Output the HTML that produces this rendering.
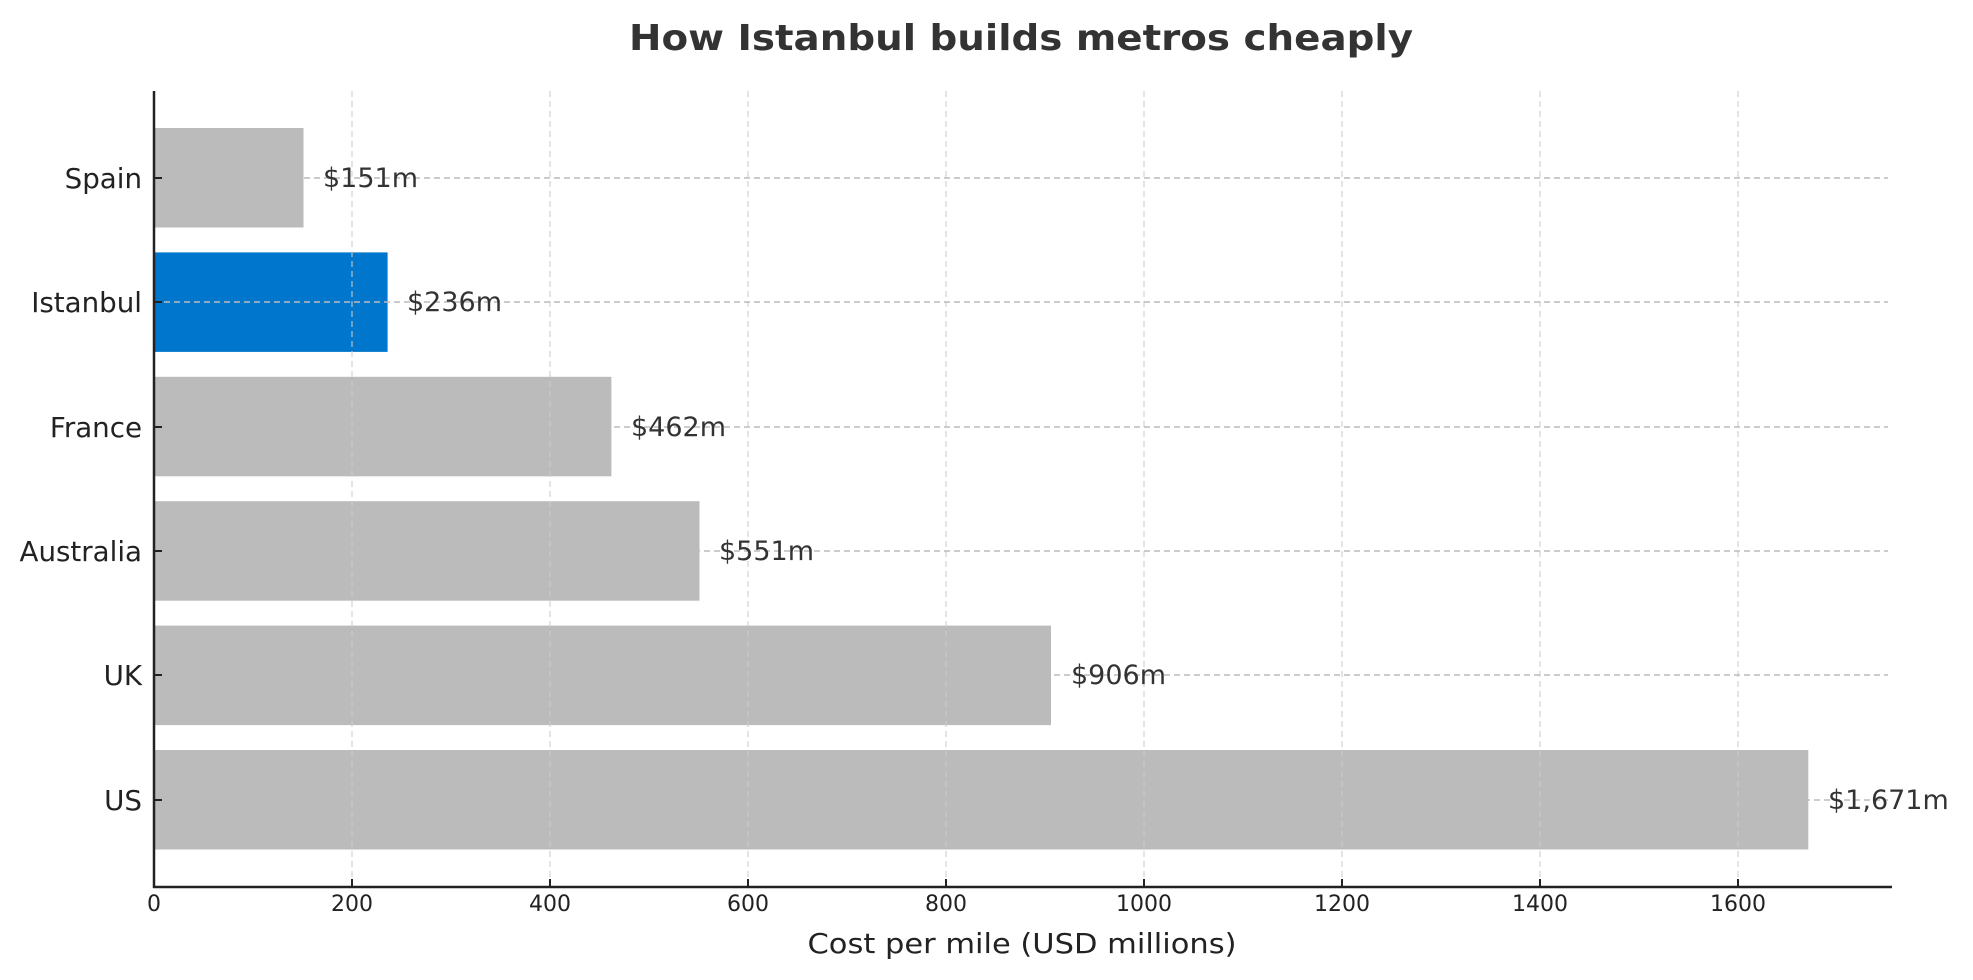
<!DOCTYPE html>
<html><head><meta charset="utf-8"><style>
html,body{margin:0;padding:0;background:#fff;}
svg{display:block;font-family:"DejaVu Sans","Liberation Sans",sans-serif;}
</style></head><body>
<svg width="1973" height="980" viewBox="0 0 1973 980" xmlns="http://www.w3.org/2000/svg">
<rect width="1973" height="980" fill="#fff"/>
<text x="1021" y="50" text-anchor="middle" font-size="36" font-weight="bold" fill="#333" textLength="784" lengthAdjust="spacingAndGlyphs">How Istanbul builds metros cheaply</text>
<g>
<rect x="154" y="128" width="149.5" height="99.5" fill="#bbbbbb"/>
<rect x="154" y="252.4" width="233.6" height="99.5" fill="#0077cc"/>
<rect x="154" y="376.8" width="457.4" height="99.5" fill="#bbbbbb"/>
<rect x="154" y="501.2" width="545.5" height="99.5" fill="#bbbbbb"/>
<rect x="154" y="625.6" width="897" height="99.5" fill="#bbbbbb"/>
<rect x="154" y="750" width="1654.3" height="99.5" fill="#bbbbbb"/>
</g>
<g stroke="#cccccc" stroke-opacity="0.8" stroke-width="1.3" stroke-dasharray="6,4">
<line x1="352" y1="91" x2="352" y2="887"/>
<line x1="550" y1="91" x2="550" y2="887"/>
<line x1="748" y1="91" x2="748" y2="887"/>
<line x1="946" y1="91" x2="946" y2="887"/>
<line x1="1144" y1="91" x2="1144" y2="887"/>
<line x1="1342" y1="91" x2="1342" y2="887"/>
<line x1="1540" y1="91" x2="1540" y2="887"/>
<line x1="1738" y1="91" x2="1738" y2="887"/>
</g>
<g stroke="#bbbbbb" stroke-width="1.4" stroke-dasharray="6,4">
<line x1="154" y1="178" x2="1888" y2="178"/>
<line x1="154" y1="302" x2="1888" y2="302"/>
<line x1="154" y1="427" x2="1888" y2="427"/>
<line x1="154" y1="551" x2="1888" y2="551"/>
<line x1="154" y1="675" x2="1888" y2="675"/>
<line x1="154" y1="800" x2="1888" y2="800"/>
</g>
<g font-size="27" fill="#333">
<text x="323" y="187">$151m</text>
<text x="407" y="311">$236m</text>
<text x="631" y="436">$462m</text>
<text x="719" y="560">$551m</text>
<text x="1071" y="684">$906m</text>
<text x="1828" y="809">$1,671m</text>
</g>
<g stroke="#222" stroke-width="2.5">
<line x1="154" y1="91" x2="154" y2="888"/>
<line x1="153" y1="887" x2="1892" y2="887"/>
</g>
<g stroke="#222" stroke-width="2">
<line x1="154" y1="178" x2="162" y2="178"/>
<line x1="154" y1="302" x2="162" y2="302"/>
<line x1="154" y1="427" x2="162" y2="427"/>
<line x1="154" y1="551" x2="162" y2="551"/>
<line x1="154" y1="675" x2="162" y2="675"/>
<line x1="154" y1="800" x2="162" y2="800"/>
<line x1="352" y1="887" x2="352" y2="879"/>
<line x1="550" y1="887" x2="550" y2="879"/>
<line x1="748" y1="887" x2="748" y2="879"/>
<line x1="946" y1="887" x2="946" y2="879"/>
<line x1="1144" y1="887" x2="1144" y2="879"/>
<line x1="1342" y1="887" x2="1342" y2="879"/>
<line x1="1540" y1="887" x2="1540" y2="879"/>
<line x1="1738" y1="887" x2="1738" y2="879"/>
</g>
<g font-size="27.7" fill="#222" text-anchor="end">
<text x="142" y="188">Spain</text>
<text x="142" y="312">Istanbul</text>
<text x="142" y="437">France</text>
<text x="142" y="561">Australia</text>
<text x="142" y="685">UK</text>
<text x="142" y="810">US</text>
</g>
<g font-size="22" fill="#222" text-anchor="middle">
<text x="154" y="911">0</text>
<text x="352" y="911">200</text>
<text x="550" y="911">400</text>
<text x="748" y="911">600</text>
<text x="946" y="911">800</text>
<text x="1144" y="911">1000</text>
<text x="1342" y="911">1200</text>
<text x="1540" y="911">1400</text>
<text x="1738" y="911">1600</text>
</g>
<text x="1022" y="953" text-anchor="middle" font-size="28" fill="#222" textLength="429" lengthAdjust="spacingAndGlyphs">Cost per mile (USD millions)</text>
</svg>
</body></html>
